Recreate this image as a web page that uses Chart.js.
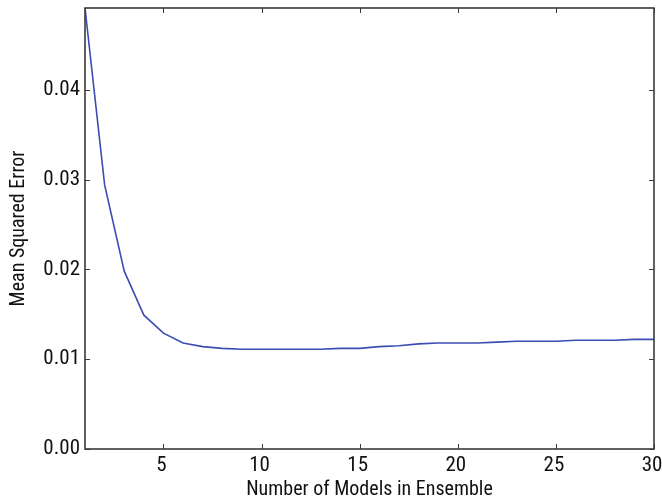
<!DOCTYPE html>
<html>
<head>
<meta charset="utf-8">
<script src="https://cdn.jsdelivr.net/npm/chart.js@4/dist/chart.umd.min.js"></script>
<style>
  html, body { margin: 0; padding: 0; background: #fff; }
  canvas { display: block; }
</style>
</head>
<body>
<canvas id="mseChart" width="662" height="502"></canvas>
<script>
// models in ensemble vs mean squared error
var modelCounts = [1, 2, 3, 4, 5, 6, 7, 8, 9, 10, 11, 12, 13, 14, 15,
                   16, 17, 18, 19, 20, 21, 22, 23, 24, 25, 26, 27, 28, 29, 30];
var mseValues = [0.0491, 0.0294, 0.0198, 0.0149, 0.0129, 0.0118, 0.0114, 0.0112, 0.0111, 0.0111,
                 0.0111, 0.0111, 0.0111, 0.0112, 0.0112, 0.0114, 0.0115, 0.0117, 0.0118, 0.0118,
                 0.0118, 0.0119, 0.0120, 0.0120, 0.0120, 0.0121, 0.0121, 0.0121, 0.0122, 0.0122];
var xTicks = [5, 10, 15, 20, 25, 30];
var yTicks = [0.00, 0.01, 0.02, 0.03, 0.04];

var points = [];
for (var i = 0; i < modelCounts.length; i++) {
  points.push({x: modelCounts[i], y: mseValues[i]});
}

var fontFamily = "'Liberation Sans Narrow', 'Roboto Condensed', 'Arial Narrow', Roboto, sans-serif";
var frameColor = '#3a3a3a';

// no extra room for overhanging tick labels, the frame sits where the layout says
function noScalePadding(scale) {
  scale.paddingLeft = 0;
  scale.paddingRight = 0;
  scale.paddingTop = 0;
  scale.paddingBottom = 0;
}

// matplotlib-style frame with inward ticks on all four sides
var frameTicks = {
  id: 'frameTicks',
  afterDraw: function(chart) {
    var ctx = chart.ctx, area = chart.chartArea;
    var xs = chart.scales.x, ys = chart.scales.y;
    var len = 5;
    ctx.save();
    ctx.strokeStyle = frameColor;
    ctx.lineWidth = 1;
    xTicks.forEach(function(v) {
      var px = Math.round(xs.getPixelForValue(v)) + 0.5;
      ctx.beginPath();
      ctx.moveTo(px, area.bottom); ctx.lineTo(px, area.bottom - len);
      ctx.moveTo(px, area.top); ctx.lineTo(px, area.top + len);
      ctx.stroke();
    });
    yTicks.forEach(function(v) {
      var py = Math.round(ys.getPixelForValue(v)) + 0.5;
      ctx.beginPath();
      ctx.moveTo(area.left, py); ctx.lineTo(area.left + len, py);
      ctx.moveTo(area.right, py); ctx.lineTo(area.right - len, py);
      ctx.stroke();
    });
    ctx.lineWidth = 1.6;
    ctx.strokeRect(area.left, area.top, area.right - area.left, area.bottom - area.top);
    ctx.restore();
  }
};

new Chart(document.getElementById('mseChart'), {
  type: 'line',
  data: {
    datasets: [{
      data: points,
      borderColor: '#3b4db5',
      borderWidth: 1.6,
      pointRadius: 0,
      tension: 0,
      fill: false
    }]
  },
  options: {
    responsive: false,
    animation: false,
    layout: { padding: { top: 8, right: 8, left: 0, bottom: 0 } },
    plugins: { legend: { display: false }, tooltip: { enabled: false } },
    scales: {
      x: {
        type: 'linear',
        min: 1,
        max: 30,
        afterBuildTicks: function(scale) {
          scale.ticks = xTicks.map(function(v) { return {value: v}; });
        },
        afterFit: function(scale) { scale.height = 53; noScalePadding(scale); },
        grid: { display: false, drawTicks: false },
        border: { display: false },
        ticks: {
          padding: 4,
          labelOffset: -2,
          color: '#111',
          font: { family: fontFamily, size: 21 },
          maxRotation: 0
        },
        title: {
          display: true,
          text: 'Number of Models in Ensemble',
          color: '#111',
          font: { family: fontFamily, size: 20 },
          padding: { top: 0, bottom: 0 }
        }
      },
      y: {
        type: 'linear',
        min: 0,
        max: 0.0491,
        afterBuildTicks: function(scale) {
          scale.ticks = yTicks.map(function(v) { return {value: v}; });
        },
        afterFit: function(scale) { scale.width = 85; noScalePadding(scale); },
        grid: { display: false, drawTicks: false },
        border: { display: false },
        ticks: {
          padding: 5,
          color: '#111',
          font: { family: fontFamily, size: 21 },
          callback: function(v) { return v.toFixed(2); }
        },
        title: {
          display: true,
          text: 'Mean Squared Error',
          color: '#111',
          font: { family: fontFamily, size: 20 },
          padding: { top: 7, bottom: 0 }
        }
      }
    }
  },
  plugins: [frameTicks]
});
</script>
</body>
</html>
